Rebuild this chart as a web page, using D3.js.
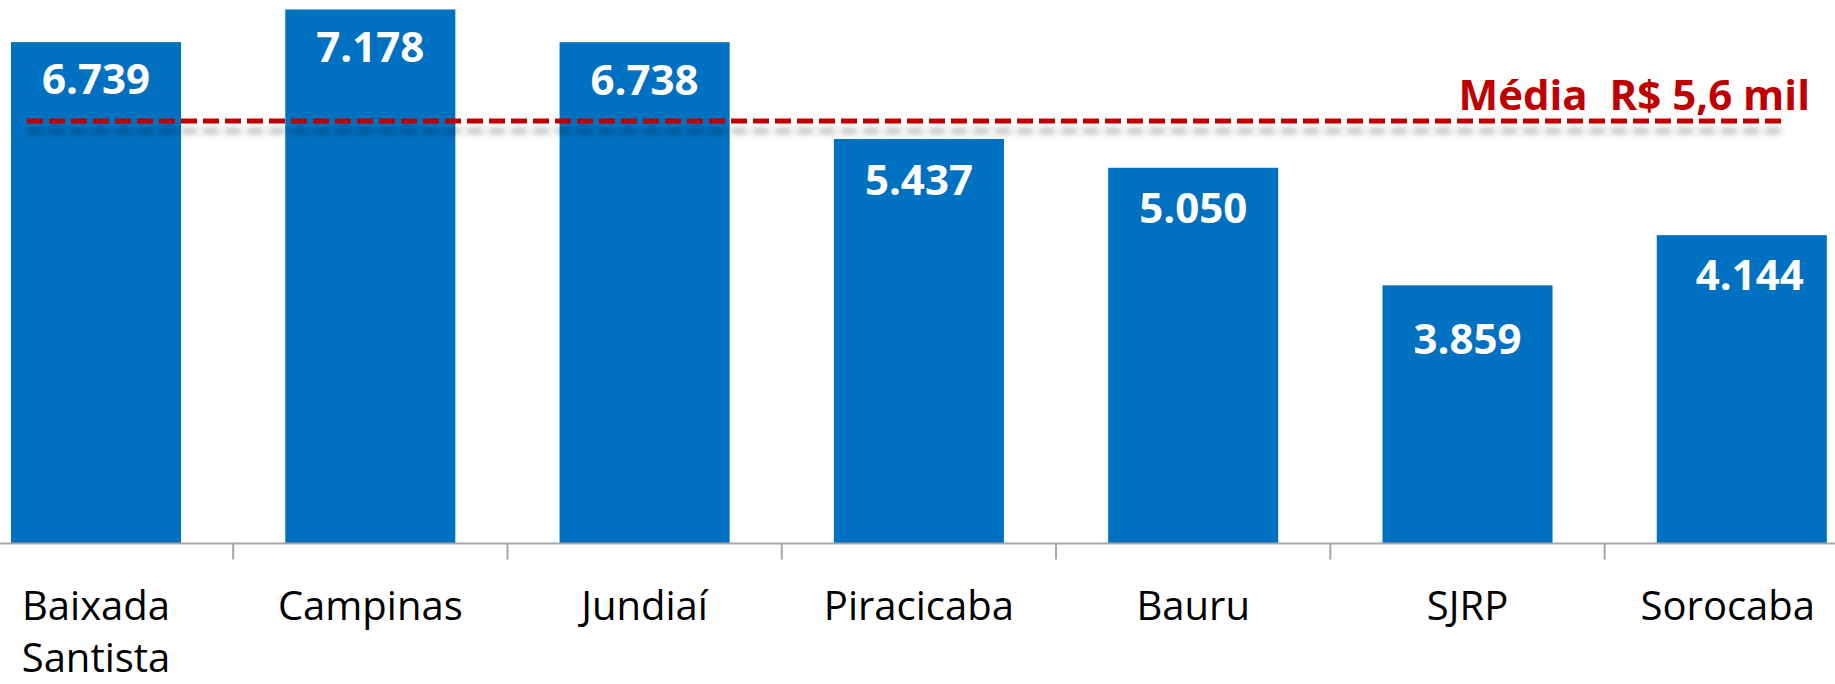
<!DOCTYPE html>
<html>
<head>
<meta charset="utf-8">
<script src="https://cdn.jsdelivr.net/npm/d3@7"></script>
<style>
  html, body { margin: 0; padding: 0; background: #ffffff; }
  svg { display: block; }
</style>
</head>
<body>
<svg id="chart" width="1835" height="684"></svg>
<script>
// ---- data ----
const categories = ["Baixada Santista", "Campinas", "Jundiaí", "Piracicaba", "Bauru", "SJRP", "Sorocaba"];
// bar heights as drawn in the picture
const values = [6739, 7178, 6738, 5437, 5050, 3470, 4144];
// value labels as printed on the bars
const valueLabels = ["6.739", "7.178", "6.738", "5.437", "5.050", "3.859", "4.144"];
const meanLineValue = 5680;
const meanLabel = "Média  R$ 5,6 mil";

// ---- layout ----
const W = 1835, H = 684;
const baseY = 543.5;
const svg = d3.select("#chart");

const x = d3.scaleBand()
  .domain(categories)
  .range([-41.15, 1878.95])
  .paddingInner(0.38)
  .paddingOuter(0.19);

const y = d3.scaleLinear()
  .domain([0, 7305])
  .range([baseY, 0]);

// drop shadow filter for mean line
const defs = svg.append("defs");
const f = defs.append("filter").attr("id", "shadow")
  .attr("filterUnits", "userSpaceOnUse")
  .attr("x", 0).attr("y", 80).attr("width", W).attr("height", 100);
f.append("feDropShadow")
  .attr("dx", 0).attr("dy", 10).attr("stdDeviation", 3)
  .attr("flood-color", "#000").attr("flood-opacity", 0.3);

// bars
svg.append("g").selectAll("rect")
  .data(values)
  .join("rect")
  .attr("x", (d, i) => x(categories[i]))
  .attr("y", d => y(d))
  .attr("width", x.bandwidth())
  .attr("height", d => baseY - y(d))
  .attr("fill", "#0070C0");

// x axis line and ticks
const axisG = svg.append("g").attr("transform", `translate(0,${baseY})`);
axisG.append("line")
  .attr("x1", 0).attr("x2", W)
  .attr("y1", 0).attr("y2", 0)
  .attr("stroke", "#a6a6a6").attr("stroke-width", 2);
const step = x.step();
const boundaries = categories.slice(1).map(c => x(c) - step * x.paddingInner() / 2);
axisG.selectAll("line.tick")
  .data(boundaries)
  .join("line")
  .attr("class", "tick")
  .attr("x1", d => d).attr("x2", d => d)
  .attr("y1", 0).attr("y2", 16)
  .attr("stroke", "#a6a6a6").attr("stroke-width", 2);

// category labels
const catG = svg.append("g");
categories.forEach((c, i) => {
  const words = c === "Baixada Santista" ? ["Baixada", "Santista"] : [c];
  const cx = x(c) + x.bandwidth() / 2 + (i === categories.length - 1 ? -14 : 0);
  const t = catG.append("text")
    .attr("x", cx)
    .attr("y", 620)
    .attr("text-anchor", "middle")
    .attr("font-family", "'Open Sans', sans-serif")
    .attr("font-size", 40)
    .attr("fill", "#000");
  words.forEach((w, k) => {
    t.append("tspan")
      .attr("x", cx)
      .attr("dy", k === 0 ? 0 : 52)
      .text(w);
  });
});

// value labels
const labelDy = [52, 53, 53, 56, 55, 69, 55];
svg.append("g").selectAll("text")
  .data(values)
  .join("text")
  .attr("x", (d, i) => x(categories[i]) + x.bandwidth() / 2 + (i === 6 ? 8 : 0))
  .attr("y", (d, i) => y(d) + labelDy[i])
  .attr("text-anchor", "middle")
  .attr("font-family", "'Open Sans', sans-serif")
  .attr("font-weight", "bold")
  .attr("font-size", 42)
  .attr("fill", "#ffffff")
  .text((d, i) => valueLabels[i]);

// mean line
svg.append("line")
  .attr("x1", 27).attr("x2", 1783)
  .attr("y1", y(meanLineValue)).attr("y2", y(meanLineValue))
  .attr("stroke", "#C00000")
  .attr("stroke-width", 5)
  .attr("stroke-dasharray", "16 6")
  .attr("filter", "url(#shadow)");

svg.append("text")
  .attr("x", 1810)
  .attr("y", 110)
  .attr("text-anchor", "end")
  .attr("font-family", "'Open Sans', sans-serif")
  .attr("font-weight", "bold")
  .attr("font-size", 42)
  .attr("fill", "#C00000")
  .style("white-space", "pre")
  .text(meanLabel);
</script>
</body>
</html>
